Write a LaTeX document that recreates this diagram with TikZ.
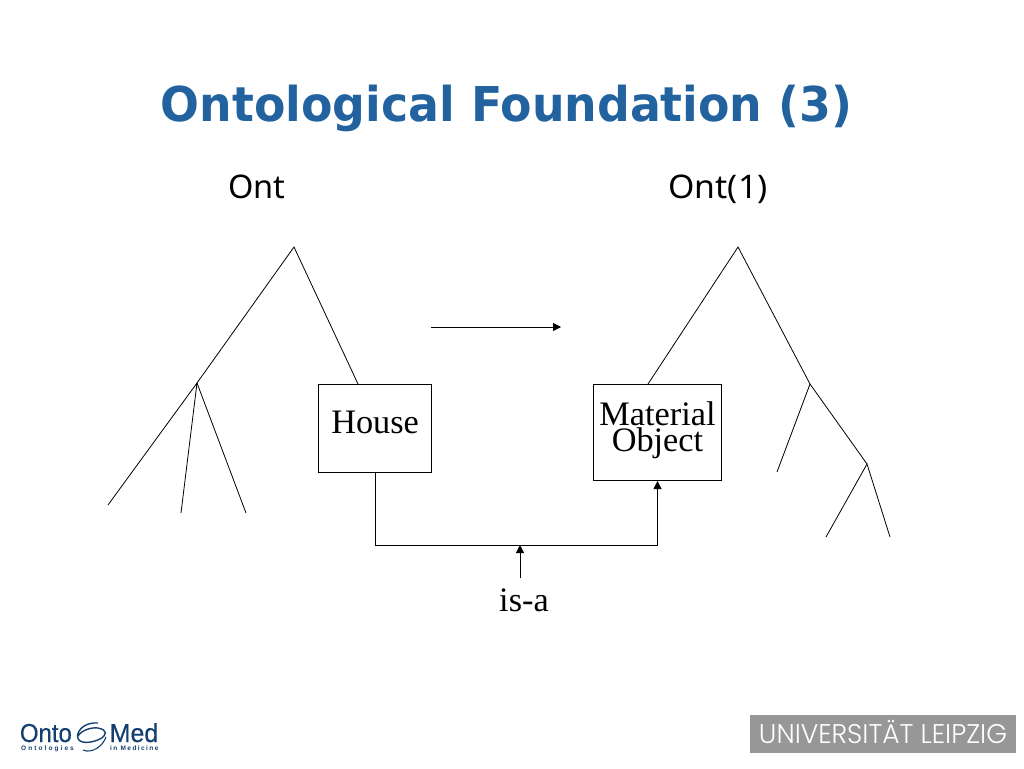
\documentclass[tikz,border=0pt]{standalone}
\usepackage{fontspec}
\usetikzlibrary{arrows.meta}
\setmainfont{Liberation Serif}
\newfontfamily\titlefont{DejaVu Sans}
\newfontfamily\headfont{Noto Sans}
\newfontfamily\helv{Liberation Sans}
\newfontfamily\helvheavy[FakeBold=0.35]{Liberation Sans}
\newfontfamily\unifont{Poppins Light}
\definecolor{titleblue}{HTML}{22639F}
\definecolor{logoblue}{HTML}{123F70}
\definecolor{unigray}{HTML}{979797}
\tikzset{
  x=1pt,y=-1pt,
  line/.style={draw=black,line width=0.8pt},
  box/.style={draw=black,line width=1pt,fill=white,inner sep=0pt,anchor=north west,align=center},
  serif/.style={font=\fontsize{34.3}{26}\selectfont,inner sep=0pt},
  head/.style={font=\headfont\fontsize{32.5}{38}\selectfont,inner sep=0pt,anchor=base},
  tip/.style={-{Triangle[length=8pt,width=8pt]}},
  logotext/.style={inner sep=0pt,text=logoblue},
}
\begin{document}
\begin{tikzpicture}
\useasboundingbox (0,0) rectangle (1024,768);
\node[inner sep=0pt,anchor=base,xscale=0.954,text=titleblue,font=\titlefont\bfseries\fontsize{48}{60}\selectfont] (title) at (506.5,121) {Ontological Foundation (3)};
\node[head] (ont) at (257,198) {Ont};
\node[head,xscale=1.04] (ont1) at (718,198) {Ont(1)};
% left tree
\coordinate (la) at (294,247);
\coordinate (lb) at (197,383);
\coordinate (l1) at (108,505);
\coordinate (l2) at (181,513);
\coordinate (l3) at (246,513);
\node[box,serif,minimum width=112.7pt,minimum height=88.3pt] (house) at (318.3,384) {\smash{\raisebox{-4.5pt}{House}}};
\coordinate (hs) at (358,384);
\draw[line] (lb) -- (la) -- (hs);
\draw[line] (l1) -- (lb) -- (l2);
\draw[line] (lb) -- (l3);
% right tree
\coordinate (ra) at (738,247);
\coordinate (rb) at (810,384);
\coordinate (rc) at (867,464);
\coordinate (r1) at (777,472);
\coordinate (r2) at (826,537);
\coordinate (r3) at (890,537);
\node[box,serif,minimum width=128.6pt,minimum height=96pt,text depth=12pt] (mat) at (592.7,384) {Material\\Object};
\coordinate (ms) at (648,384);
\draw[line] (ms) -- (ra) -- (rb) -- (rc);
\draw[line] (r1) -- (rb);
\draw[line] (r2) -- (rc) -- (r3);
% middle arrow
\coordinate (a1) at (431,327);
\coordinate (a2) at (561,327);
\draw[line,tip] (a1) -- (a2);
% is-a link
\coordinate (bl) at (house.south |- 0,545);
\coordinate (br) at (mat.south |- 0,545);
\draw[line,line width=1pt,tip] (house.south) -- (bl) -- (br) -- (mat.south);
\coordinate (isatop) at (520,545);
\coordinate (isabot) at (520,578);
\draw[line,tip] (isabot) -- (isatop);
\node[serif,anchor=base] (isa) at (524,611) {is-a};
% OntoMed logo
\node[logotext,anchor=base east,font=\helvheavy\fontsize{26}{26}\selectfont,xscale=0.92] (onto) at (72,742) {Onto};
\node[logotext,anchor=base west,font=\helvheavy\fontsize{26}{26}\selectfont,xscale=0.96] (med) at (109.5,742) {Med};
\node[logotext,anchor=base west,font=\helv\bfseries\fontsize{6.5}{7}\selectfont\addfontfeature{LetterSpace=32}] (ontol) at (21,750.5) {Ontologies};
\node[logotext,anchor=base west,font=\helv\bfseries\fontsize{6.5}{7}\selectfont\addfontfeature{LetterSpace=22}] (inmed) at (110,750.5) {in Medicine};
\draw[logoblue,line width=1.4pt] (98,723) .. controls (86,722) and (78,729) .. (77.5,736) .. controls (77.5,745) and (92,743) .. (100,739) .. controls (107,735) and (108,730) .. (98,728) .. controls (90,727) and (81,731) .. (78,736);
\draw[logoblue,line width=1.1pt] (83,750) .. controls (92,754) and (103,746) .. (106,737);
% Leipzig logo
\node[fill=unigray,minimum width=266pt,minimum height=38pt,inner sep=0pt] (uni) at (883,734) {};
\node[inner sep=0pt,anchor=base,text=white,font=\unifont\fontsize{27}{30}\selectfont,xscale=0.983] (unitext) at (883,743) {UNIVERSITÄT LEIPZIG};
\end{tikzpicture}
\end{document}
